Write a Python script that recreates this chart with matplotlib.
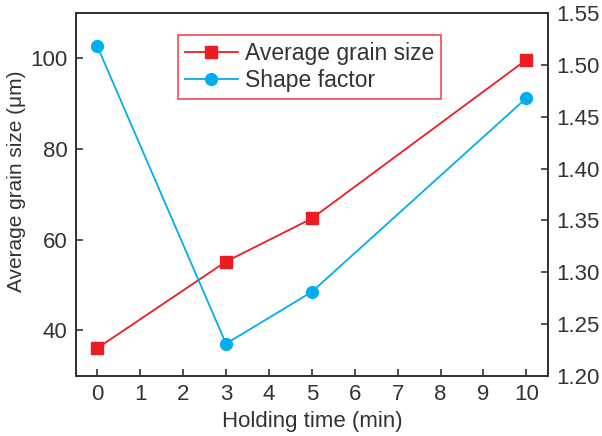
import matplotlib.pyplot as plt
import numpy as np

plt.rcParams['font.family'] = ['Liberation Sans', 'DejaVu Sans']

# data
holding_time = [0, 3, 5, 10]
grain_size = [36.1, 55.2, 64.7, 99.7]
shape_factor = [1.518, 1.231, 1.281, 1.468]

red = '#ED1C24'
blue = '#00AEEF'
dark = '#333333'

fig = plt.figure(figsize=(6.02, 4.36), dpi=100)
ax1 = fig.add_axes([0.126, 0.138, 0.784, 0.832])
ax2 = ax1.twinx()

l1, = ax1.plot(holding_time, grain_size, color=red, marker='s', markersize=8,
               linewidth=1.3, label='Average grain size')
l2, = ax2.plot(holding_time, shape_factor, color=blue, marker='o', markersize=8.5,
               linewidth=1.3, label='Shape factor')

ax1.set_xlim(-0.5, 10.5)
ax1.set_ylim(30, 110)
ax2.set_ylim(1.20, 1.55)
ax1.set_xticks(range(0, 11))
ax1.set_yticks([40, 60, 80, 100])
ax2.set_yticks(np.arange(1.20, 1.56, 0.05))
ax2.set_yticklabels(['%.2f' % v for v in np.arange(1.20, 1.56, 0.05)])

ax1.set_xlabel('Holding time (min)', fontsize=16, color=dark, labelpad=4)
ax1.set_ylabel('Average grain size (μm)', fontsize=15, color=dark, labelpad=3)
ax1.yaxis.label.set_y(0.537)

for ax in (ax1, ax2):
    ax.tick_params(direction='in', length=5, width=1.2, labelsize=16, colors=dark,
                   labelcolor=dark, pad=6)
    for s in ax.spines.values():
        s.set_color(dark)
        s.set_linewidth(1.3)

leg = ax1.legend(handles=[l1, l2], loc='upper left',
                 bbox_to_anchor=(0.296, 0.920), bbox_transform=fig.transFigure,
                 fontsize=16.5, frameon=True, fancybox=False, handlelength=2.3,
                 borderpad=0.3, labelspacing=0.2, handletextpad=0.3,
                 borderaxespad=0)
leg.get_frame().set_edgecolor(red)
leg.get_frame().set_linewidth(1.2)
for t in leg.get_texts():
    t.set_color(dark)

fig.savefig('out.png', dpi=100)
